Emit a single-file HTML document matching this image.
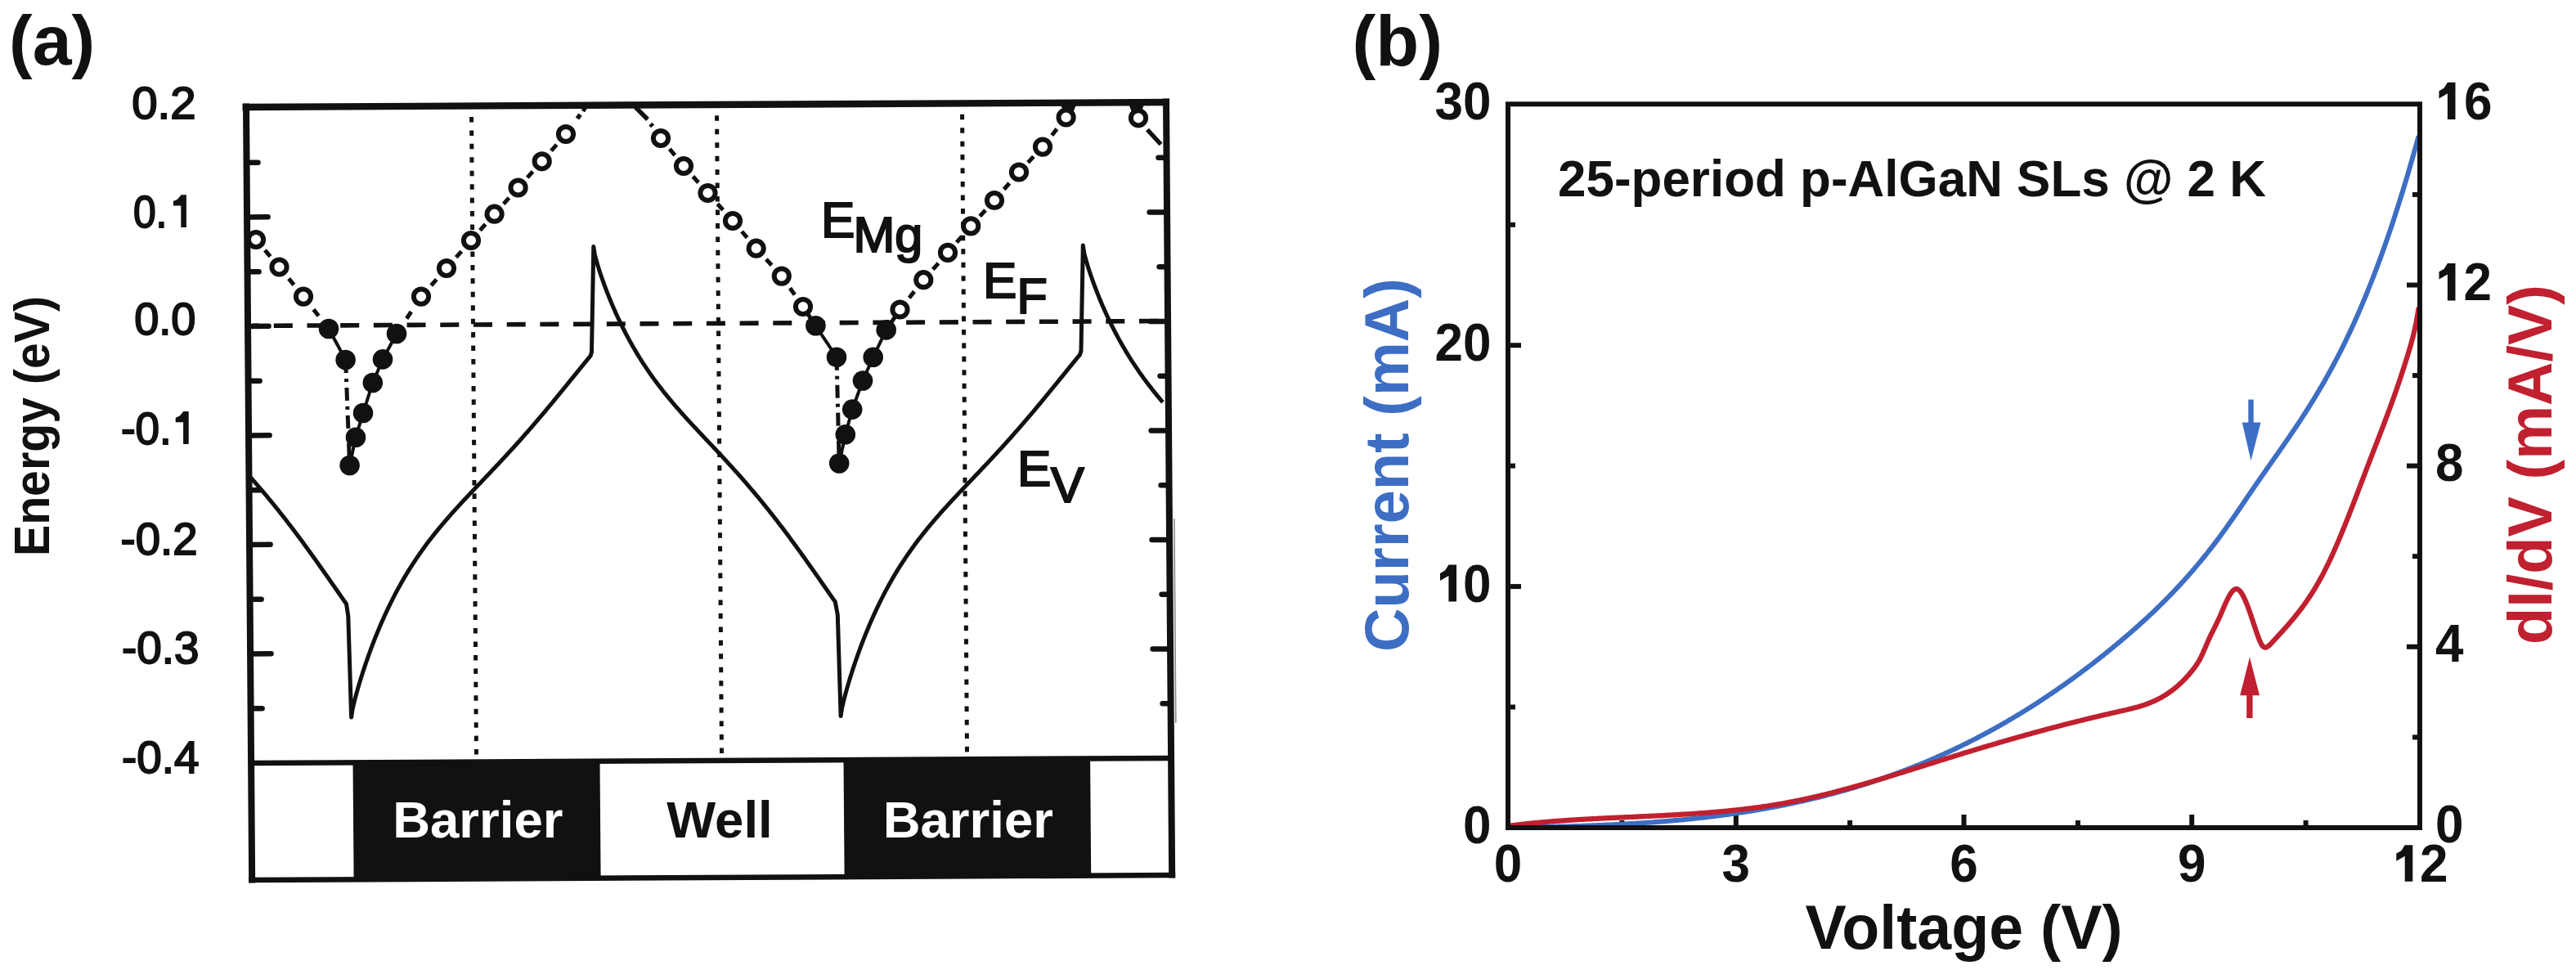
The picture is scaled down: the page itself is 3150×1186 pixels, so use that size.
<!DOCTYPE html>
<html><head><meta charset="utf-8"><style>
html,body{margin:0;padding:0;background:#fff;}
svg{display:block;}
</style></head><body>
<svg width="3150" height="1186" viewBox="0 0 3150 1186">
<rect width="3150" height="1186" fill="#fff"/>
<polygon points="431.5,932.3 733.5,930.7 734.6,1073.7 432.6,1075.3" fill="#111111"/>
<polygon points="1031.5,929.1 1333.1,927.5 1334.2,1070.5 1032.6,1072.1" fill="#111111"/>
<line x1="306.6" y1="866.2" x2="320.6" y2="866.2" stroke="#111111" stroke-width="6.5" stroke-linecap="round"/>
<line x1="1431.6" y1="860.3" x2="1421.6" y2="860.3" stroke="#111111" stroke-width="6.5" stroke-linecap="round"/>
<line x1="306.1" y1="799.5" x2="331.6" y2="799.3" stroke="#111111" stroke-width="6.5" stroke-linecap="round"/>
<line x1="1431.1" y1="793.5" x2="1409.6" y2="793.6" stroke="#111111" stroke-width="6.5" stroke-linecap="round"/>
<line x1="305.6" y1="732.7" x2="319.6" y2="732.7" stroke="#111111" stroke-width="6.5" stroke-linecap="round"/>
<line x1="1430.6" y1="726.8" x2="1420.6" y2="726.8" stroke="#111111" stroke-width="6.5" stroke-linecap="round"/>
<line x1="305.1" y1="666.0" x2="330.6" y2="665.8" stroke="#111111" stroke-width="6.5" stroke-linecap="round"/>
<line x1="1430.1" y1="660.0" x2="1408.6" y2="660.1" stroke="#111111" stroke-width="6.5" stroke-linecap="round"/>
<line x1="304.6" y1="599.2" x2="318.6" y2="599.2" stroke="#111111" stroke-width="6.5" stroke-linecap="round"/>
<line x1="1429.6" y1="593.3" x2="1419.6" y2="593.3" stroke="#111111" stroke-width="6.5" stroke-linecap="round"/>
<line x1="304.1" y1="532.5" x2="329.6" y2="532.3" stroke="#111111" stroke-width="6.5" stroke-linecap="round"/>
<line x1="1429.1" y1="526.5" x2="1407.6" y2="526.6" stroke="#111111" stroke-width="6.5" stroke-linecap="round"/>
<line x1="303.6" y1="465.7" x2="317.6" y2="465.7" stroke="#111111" stroke-width="6.5" stroke-linecap="round"/>
<line x1="1428.6" y1="459.8" x2="1418.6" y2="459.8" stroke="#111111" stroke-width="6.5" stroke-linecap="round"/>
<line x1="303.1" y1="399.0" x2="328.6" y2="398.8" stroke="#111111" stroke-width="6.5" stroke-linecap="round"/>
<line x1="1428.1" y1="393.0" x2="1406.6" y2="393.1" stroke="#111111" stroke-width="6.5" stroke-linecap="round"/>
<line x1="302.6" y1="332.2" x2="316.6" y2="332.2" stroke="#111111" stroke-width="6.5" stroke-linecap="round"/>
<line x1="1427.6" y1="326.3" x2="1417.6" y2="326.3" stroke="#111111" stroke-width="6.5" stroke-linecap="round"/>
<line x1="302.1" y1="265.5" x2="327.6" y2="265.3" stroke="#111111" stroke-width="6.5" stroke-linecap="round"/>
<line x1="1427.1" y1="259.5" x2="1405.6" y2="259.6" stroke="#111111" stroke-width="6.5" stroke-linecap="round"/>
<line x1="301.5" y1="198.7" x2="315.5" y2="198.7" stroke="#111111" stroke-width="6.5" stroke-linecap="round"/>
<line x1="1426.5" y1="192.8" x2="1416.5" y2="192.8" stroke="#111111" stroke-width="6.5" stroke-linecap="round"/>
<line x1="576.5" y1="134.0" x2="582.5" y2="923.5" stroke="#111111" stroke-width="5" stroke-dasharray="6.5 9.95" stroke-dashoffset="7.5" stroke-linecap="butt"/>
<line x1="876.5" y1="132.4" x2="882.5" y2="921.9" stroke="#111111" stroke-width="5" stroke-dasharray="6.5 9.95" stroke-dashoffset="7.5" stroke-linecap="butt"/>
<line x1="1176.5" y1="130.8" x2="1182.5" y2="920.3" stroke="#111111" stroke-width="5" stroke-dasharray="6.5 9.95" stroke-dashoffset="7.5" stroke-linecap="butt"/>
<line x1="309.1" y1="398.4" x2="1426.1" y2="392.5" stroke="#111111" stroke-width="5.6" stroke-dasharray="23 17.7" stroke-dashoffset="15"/>
<line x1="1435.9" y1="634.0" x2="1437.8" y2="884.0" stroke="#888" stroke-width="1.6" />
<polyline points="305.0,582.1 306.5,583.8 308.0,585.5 309.5,587.2 311.0,588.9 312.5,590.6 314.0,592.3 315.5,594.1 317.0,595.8 318.5,597.6 320.0,599.3 321.5,601.1 323.0,602.9 324.5,604.7 326.0,606.4 327.5,608.2 329.0,610.1 330.5,611.9 332.0,613.7 333.5,615.5 335.0,617.4 336.5,619.2 338.0,621.1 339.5,622.9 341.0,624.8 342.5,626.7 344.0,628.6 345.5,630.5 347.0,632.4 348.5,634.3 350.0,636.3 351.5,638.2 353.0,640.2 354.5,642.1 356.0,644.1 357.5,646.0 359.0,648.0 360.5,650.0 362.0,652.0 363.5,654.0 365.0,656.0 366.5,658.0 368.0,660.1 369.5,662.1 371.0,664.1 372.5,666.2 374.0,668.2 375.5,670.3 377.0,672.4 378.5,674.4 380.0,676.5 381.5,678.6 383.0,680.7 384.5,682.8 386.0,684.9 387.5,687.0 389.0,689.1 390.5,691.2 392.0,693.4 393.5,695.5 395.0,697.6 396.5,699.7 398.0,701.9 399.5,704.0 401.0,706.2 402.5,708.3 404.0,710.4 405.5,712.6 407.0,714.7 408.5,716.9 410.0,719.0 411.5,721.2 413.0,723.3 414.5,725.5 416.0,727.6 417.5,729.8 419.0,731.9 420.5,734.1 422.0,736.2 423.5,738.3 425.8,753.4 429.6,877.1 431.1,867.2 432.6,860.6 434.1,854.6 435.6,849.0 437.1,843.6 438.6,838.4 440.1,833.4 441.6,828.5 443.1,823.8 444.6,819.1 446.1,814.6 447.6,810.2 449.1,805.9 450.6,801.6 452.1,797.5 453.6,793.4 455.1,789.4 456.6,785.5 458.1,781.7 459.6,777.9 461.1,774.2 462.6,770.6 464.1,767.0 465.6,763.5 467.1,760.0 468.6,756.7 470.1,753.3 471.6,750.1 473.1,746.8 474.6,743.7 476.1,740.6 477.6,737.5 479.1,734.5 480.6,731.5 482.1,728.6 483.6,725.7 485.1,722.9 486.6,720.1 488.1,717.4 489.6,714.7 491.1,712.1 492.6,709.4 494.1,706.9 495.6,704.3 497.1,701.8 498.6,699.4 500.1,696.9 501.6,694.5 503.1,692.2 504.6,689.8 506.1,687.6 507.6,685.3 509.1,683.0 510.6,680.8 512.1,678.6 513.6,676.5 515.1,674.4 516.6,672.3 518.1,670.2 519.6,668.1 521.1,666.1 522.6,664.1 524.1,662.1 525.6,660.1 527.1,658.2 528.6,656.3 530.1,654.4 531.6,652.5 533.1,650.6 534.6,648.8 536.1,646.9 537.6,645.1 539.1,643.3 540.6,641.5 542.1,639.8 543.6,638.0 545.1,636.3 546.6,634.5 548.1,632.8 549.6,631.1 551.1,629.4 552.6,627.7 554.1,626.0 555.6,624.4 557.1,622.7 558.6,621.1 560.1,619.4 561.6,617.8 563.1,616.1 564.6,614.5 566.1,612.9 567.6,611.3 569.1,609.7 570.6,608.1 572.1,606.5 573.6,604.9 575.1,603.3 576.6,601.7 578.1,600.1 579.6,598.6 581.1,597.0 582.6,595.4 584.1,593.8 585.6,592.3 587.1,590.7 588.6,589.1 590.1,587.5 591.6,586.0 593.1,584.4 594.6,582.8 596.1,581.2 597.6,579.7 599.1,578.1 600.6,576.5 602.1,574.9 603.6,573.3 605.1,571.7 606.6,570.1 608.1,568.6 609.6,567.0 611.1,565.4 612.6,563.8 614.1,562.1 615.6,560.5 617.1,558.9 618.6,557.3 620.1,555.7 621.6,554.0 623.1,552.4 624.6,550.8 626.1,549.1 627.6,547.5 629.1,545.8 630.6,544.2 632.1,542.5 633.6,540.8 635.1,539.2 636.6,537.5 638.1,535.8 639.6,534.1 641.1,532.4 642.6,530.7 644.1,529.0 645.6,527.3 647.1,525.6 648.6,523.9 650.1,522.1 651.6,520.4 653.1,518.7 654.6,516.9 656.1,515.2 657.6,513.4 659.1,511.6 660.6,509.9 662.1,508.1 663.6,506.3 665.1,504.6 666.6,502.8 668.1,501.0 669.6,499.2 671.1,497.4 672.6,495.6 674.1,493.8 675.6,492.0 677.1,490.1 678.6,488.3 680.1,486.5 681.6,484.7 683.1,482.9 684.6,481.0 686.1,479.2 687.6,477.3 689.1,475.5 690.6,473.7 692.1,471.8 693.6,470.0 695.1,468.1 696.6,466.3 698.1,464.4 699.6,462.6 701.1,460.8 702.6,458.9 704.1,457.1 705.6,455.2 707.1,453.4 708.6,451.5 710.1,449.7 711.6,447.9 713.1,446.0 714.6,444.2 716.1,442.4 717.6,440.5 719.1,438.7 720.6,436.9 722.1,435.1 723.5,430.2 725.8,301.6 727.3,311.0 728.8,317.0 730.3,322.3 731.8,327.2 733.3,331.9 734.8,336.5 736.3,340.8 737.8,345.1 739.3,349.2 740.8,353.2 742.3,357.1 743.8,360.9 745.3,364.6 746.8,368.3 748.3,371.9 749.8,375.4 751.3,378.8 752.8,382.2 754.3,385.5 755.8,388.7 757.3,391.9 758.8,395.0 760.3,398.1 761.8,401.1 763.3,404.0 764.8,407.0 766.3,409.8 767.8,412.6 769.3,415.4 770.8,418.1 772.3,420.8 773.8,423.4 775.3,426.0 776.8,428.6 778.3,431.1 779.8,433.6 781.3,436.0 782.8,438.5 784.3,440.8 785.8,443.2 787.3,445.5 788.8,447.7 790.3,450.0 791.8,452.2 793.3,454.4 794.8,456.6 796.3,458.7 797.8,460.8 799.3,462.9 800.8,464.9 802.3,467.0 803.8,469.0 805.3,470.9 806.8,472.9 808.3,474.8 809.8,476.8 811.3,478.7 812.8,480.6 814.3,482.4 815.8,484.3 817.3,486.1 818.8,487.9 820.3,489.7 821.8,491.5 823.3,493.3 824.8,495.0 826.3,496.8 827.8,498.5 829.3,500.2 830.8,501.9 832.3,503.6 833.8,505.3 835.3,507.0 836.8,508.6 838.3,510.3 839.8,512.0 841.3,513.6 842.8,515.2 844.3,516.9 845.8,518.5 847.3,520.1 848.8,521.7 850.3,523.3 851.8,524.9 853.3,526.5 854.8,528.1 856.3,529.7 857.8,531.3 859.3,532.9 860.8,534.5 862.3,536.1 863.8,537.7 865.3,539.3 866.8,540.9 868.3,542.5 869.8,544.0 871.3,545.6 872.8,547.2 874.3,548.8 875.8,550.4 877.3,552.0 878.8,553.6 880.3,555.2 881.8,556.8 883.3,558.4 884.8,560.0 886.3,561.7 887.8,563.3 889.3,564.9 890.8,566.6 892.3,568.2 893.8,569.8 895.3,571.5 896.8,573.1 898.3,574.8 899.8,576.5 901.3,578.1 902.8,579.8 904.3,581.5 905.8,583.2 907.3,584.9 908.8,586.6 910.3,588.3 911.8,590.0 913.3,591.8 914.8,593.5 916.3,595.3 917.8,597.0 919.3,598.8 920.8,600.5 922.3,602.3 923.8,604.1 925.3,605.9 926.8,607.7 928.3,609.5 929.8,611.3 931.3,613.2 932.8,615.0 934.3,616.9 935.8,618.7 937.3,620.6 938.8,622.4 940.3,624.3 941.8,626.2 943.3,628.1 944.8,630.0 946.3,631.9 947.8,633.9 949.3,635.8 950.8,637.7 952.3,639.7 953.8,641.7 955.3,643.6 956.8,645.6 958.3,647.6 959.8,649.6 961.3,651.6 962.8,653.6 964.3,655.6 965.8,657.6 967.3,659.7 968.8,661.7 970.3,663.7 971.8,665.8 973.3,667.8 974.8,669.9 976.3,672.0 977.8,674.1 979.3,676.1 980.8,678.2 982.3,680.3 983.8,682.4 985.3,684.5 986.8,686.6 988.3,688.7 989.8,690.9 991.3,693.0 992.8,695.1 994.3,697.2 995.8,699.4 997.3,701.5 998.8,703.7 1000.3,705.8 1001.8,707.9 1003.3,710.1 1004.8,712.2 1006.3,714.4 1007.8,716.5 1009.3,718.7 1010.8,720.8 1012.3,723.0 1013.8,725.1 1015.3,727.3 1016.8,729.4 1018.3,731.6 1019.8,733.7 1021.3,735.8 1024.3,751.9 1028.1,875.6 1029.6,865.7 1031.1,859.1 1032.6,853.1 1034.1,847.5 1035.6,842.1 1037.1,836.9 1038.6,831.9 1040.1,827.0 1041.6,822.3 1043.1,817.6 1044.6,813.1 1046.1,808.7 1047.6,804.4 1049.1,800.1 1050.6,796.0 1052.1,791.9 1053.6,787.9 1055.1,784.0 1056.6,780.2 1058.1,776.4 1059.6,772.7 1061.1,769.1 1062.6,765.5 1064.1,762.0 1065.6,758.5 1067.1,755.2 1068.6,751.8 1070.1,748.6 1071.6,745.3 1073.1,742.2 1074.6,739.1 1076.1,736.0 1077.6,733.0 1079.1,730.0 1080.6,727.1 1082.1,724.2 1083.6,721.4 1085.1,718.6 1086.6,715.9 1088.1,713.2 1089.6,710.6 1091.1,707.9 1092.6,705.4 1094.1,702.8 1095.6,700.3 1097.1,697.9 1098.6,695.4 1100.1,693.0 1101.6,690.7 1103.1,688.3 1104.6,686.1 1106.1,683.8 1107.6,681.5 1109.1,679.3 1110.6,677.1 1112.1,675.0 1113.6,672.9 1115.1,670.8 1116.6,668.7 1118.1,666.6 1119.6,664.6 1121.1,662.6 1122.6,660.6 1124.1,658.6 1125.6,656.7 1127.1,654.8 1128.6,652.9 1130.1,651.0 1131.6,649.1 1133.1,647.3 1134.6,645.4 1136.1,643.6 1137.6,641.8 1139.1,640.0 1140.6,638.3 1142.1,636.5 1143.6,634.8 1145.1,633.0 1146.6,631.3 1148.1,629.6 1149.6,627.9 1151.1,626.2 1152.6,624.5 1154.1,622.9 1155.6,621.2 1157.1,619.6 1158.6,617.9 1160.1,616.3 1161.6,614.6 1163.1,613.0 1164.6,611.4 1166.1,609.8 1167.6,608.2 1169.1,606.6 1170.6,605.0 1172.1,603.4 1173.6,601.8 1175.1,600.2 1176.6,598.6 1178.1,597.1 1179.6,595.5 1181.1,593.9 1182.6,592.3 1184.1,590.8 1185.6,589.2 1187.1,587.6 1188.6,586.0 1190.1,584.5 1191.6,582.9 1193.1,581.3 1194.6,579.7 1196.1,578.2 1197.6,576.6 1199.1,575.0 1200.6,573.4 1202.1,571.8 1203.6,570.2 1205.1,568.6 1206.6,567.1 1208.1,565.5 1209.6,563.9 1211.1,562.3 1212.6,560.6 1214.1,559.0 1215.6,557.4 1217.1,555.8 1218.6,554.2 1220.1,552.5 1221.6,550.9 1223.1,549.3 1224.6,547.6 1226.1,546.0 1227.6,544.3 1229.1,542.7 1230.6,541.0 1232.1,539.3 1233.6,537.7 1235.1,536.0 1236.6,534.3 1238.1,532.6 1239.6,530.9 1241.1,529.2 1242.6,527.5 1244.1,525.8 1245.6,524.1 1247.1,522.4 1248.6,520.6 1250.1,518.9 1251.6,517.2 1253.1,515.4 1254.6,513.7 1256.1,511.9 1257.6,510.1 1259.1,508.4 1260.6,506.6 1262.1,504.8 1263.6,503.1 1265.1,501.3 1266.6,499.5 1268.1,497.7 1269.6,495.9 1271.1,494.1 1272.6,492.3 1274.1,490.5 1275.6,488.6 1277.1,486.8 1278.6,485.0 1280.1,483.2 1281.6,481.4 1283.1,479.5 1284.6,477.7 1286.1,475.8 1287.6,474.0 1289.1,472.2 1290.6,470.3 1292.1,468.5 1293.6,466.6 1295.1,464.8 1296.6,462.9 1298.1,461.1 1299.6,459.3 1301.1,457.4 1302.6,455.6 1304.1,453.7 1305.6,451.9 1307.1,450.0 1308.6,448.2 1310.1,446.4 1311.6,444.5 1313.1,442.7 1314.6,440.9 1316.1,439.0 1317.6,437.2 1319.1,435.4 1320.6,433.6 1322.0,428.7 1324.3,300.1 1325.8,309.5 1327.3,315.5 1328.8,320.8 1330.3,325.7 1331.8,330.4 1333.3,335.0 1334.8,339.3 1336.3,343.6 1337.8,347.7 1339.3,351.7 1340.8,355.6 1342.3,359.4 1343.8,363.1 1345.3,366.8 1346.8,370.4 1348.3,373.9 1349.8,377.3 1351.3,380.7 1352.8,384.0 1354.3,387.2 1355.8,390.4 1357.3,393.5 1358.8,396.6 1360.3,399.6 1361.8,402.5 1363.3,405.5 1364.8,408.3 1366.3,411.1 1367.8,413.9 1369.3,416.6 1370.8,419.3 1372.3,421.9 1373.8,424.5 1375.3,427.1 1376.8,429.6 1378.3,432.1 1379.8,434.5 1381.3,437.0 1382.8,439.3 1384.3,441.7 1385.8,444.0 1387.3,446.2 1388.8,448.5 1390.3,450.7 1391.8,452.9 1393.3,455.1 1394.8,457.2 1396.3,459.3 1397.8,461.4 1399.3,463.4 1400.8,465.5 1402.3,467.5 1403.8,469.4 1405.3,471.4 1406.8,473.3 1408.3,475.3 1409.8,477.2 1411.3,479.1 1412.8,480.9 1414.3,482.8 1415.8,484.6 1417.3,486.4 1418.8,488.2 1420.3,490.0 1421.8,491.8" fill="none" stroke="#111111" stroke-width="5" stroke-linejoin="round"/>
<line x1="324.0" y1="305.9" x2="330.5" y2="313.6" stroke="#111111" stroke-width="5"/>
<line x1="353.1" y1="340.7" x2="359.4" y2="348.4" stroke="#111111" stroke-width="5"/>
<line x1="383.4" y1="378.4" x2="389.6" y2="386.2" stroke="#111111" stroke-width="5"/>
<polyline points="402.0,402.0 422.6,440.0" fill="none" stroke="#111111" stroke-width="4"/>
<line x1="422.6" y1="440" x2="427.6" y2="569" stroke="#111111" stroke-width="5" stroke-dasharray="16 7 4 7"/>
<polyline points="427.6,569.0 435.0,534.7 444.0,505.0 455.8,468.0 468.0,439.4 485.0,408.0" fill="none" stroke="#111111" stroke-width="4"/>
<line x1="497.2" y1="389.5" x2="502.8" y2="381.1" stroke="#111111" stroke-width="5"/>
<line x1="527.2" y1="349.0" x2="533.8" y2="341.6" stroke="#111111" stroke-width="5"/>
<line x1="557.7" y1="314.7" x2="564.3" y2="307.3" stroke="#111111" stroke-width="5"/>
<line x1="587.0" y1="281.6" x2="593.6" y2="274.1" stroke="#111111" stroke-width="5"/>
<line x1="615.8" y1="249.3" x2="622.4" y2="241.9" stroke="#111111" stroke-width="5"/>
<line x1="644.8" y1="217.1" x2="651.5" y2="209.7" stroke="#111111" stroke-width="5"/>
<line x1="674.0" y1="184.4" x2="680.7" y2="176.9" stroke="#111111" stroke-width="5"/>
<line x1="818.8" y1="182.1" x2="825.2" y2="189.9" stroke="#111111" stroke-width="5"/>
<line x1="847.4" y1="215.8" x2="854.1" y2="223.2" stroke="#111111" stroke-width="5"/>
<line x1="877.4" y1="249.3" x2="884.1" y2="256.7" stroke="#111111" stroke-width="5"/>
<line x1="907.1" y1="283.0" x2="913.6" y2="290.7" stroke="#111111" stroke-width="5"/>
<line x1="936.9" y1="317.0" x2="943.6" y2="324.3" stroke="#111111" stroke-width="5"/>
<line x1="966.0" y1="352.2" x2="971.8" y2="360.4" stroke="#111111" stroke-width="5"/>
<line x1="986.9" y1="382.5" x2="992.5" y2="390.8" stroke="#111111" stroke-width="5"/>
<polyline points="997.4,398.3 1023.0,436.7" fill="none" stroke="#111111" stroke-width="4"/>
<line x1="1023" y1="436.7" x2="1026.2" y2="566.5" stroke="#111111" stroke-width="5" stroke-dasharray="16 7 4 7"/>
<polyline points="1026.2,566.5 1033.8,531.3 1042.2,500.6 1055.0,465.5 1067.7,436.7 1083.7,403.4" fill="none" stroke="#111111" stroke-width="4"/>
<line x1="1089.3" y1="395.1" x2="1094.9" y2="386.8" stroke="#111111" stroke-width="5"/>
<line x1="1111.8" y1="364.3" x2="1118.0" y2="356.4" stroke="#111111" stroke-width="5"/>
<line x1="1140.8" y1="329.3" x2="1147.5" y2="321.8" stroke="#111111" stroke-width="5"/>
<line x1="1169.8" y1="296.4" x2="1176.4" y2="288.9" stroke="#111111" stroke-width="5"/>
<line x1="1198.2" y1="264.4" x2="1205.0" y2="257.0" stroke="#111111" stroke-width="5"/>
<line x1="1227.7" y1="231.5" x2="1234.3" y2="224.0" stroke="#111111" stroke-width="5"/>
<line x1="1257.1" y1="198.7" x2="1263.9" y2="191.4" stroke="#111111" stroke-width="5"/>
<line x1="1286.2" y1="165.5" x2="1292.4" y2="157.6" stroke="#111111" stroke-width="5"/>
<line x1="706" y1="145" x2="709.5" y2="140" stroke="#111111" stroke-width="5.5"/>
<line x1="713" y1="136" x2="716" y2="131" stroke="#111111" stroke-width="5"/>
<line x1="777" y1="131" x2="792" y2="146" stroke="#111111" stroke-width="5.5"/>
<line x1="795.5" y1="151.5" x2="798" y2="154.5" stroke="#111111" stroke-width="5.5"/>
<polygon points="1297,128 1316,128 1312,138 1301,138" fill="#111111"/>
<polygon points="1380,127 1399,127 1396,137 1384,137" fill="#111111"/>
<line x1="1403" y1="158.5" x2="1419.5" y2="176.5" stroke="#111111" stroke-width="5.5"/>
<circle cx="313" cy="293" r="9.1" fill="#fff" stroke="#111111" stroke-width="6"/>
<circle cx="341.5" cy="326.5" r="9.1" fill="#fff" stroke="#111111" stroke-width="6"/>
<circle cx="371" cy="362.6" r="9.1" fill="#fff" stroke="#111111" stroke-width="6"/>
<circle cx="515" cy="362.6" r="9.1" fill="#fff" stroke="#111111" stroke-width="6"/>
<circle cx="546" cy="328" r="9.1" fill="#fff" stroke="#111111" stroke-width="6"/>
<circle cx="576" cy="294" r="9.1" fill="#fff" stroke="#111111" stroke-width="6"/>
<circle cx="604.6" cy="261.7" r="9.1" fill="#fff" stroke="#111111" stroke-width="6"/>
<circle cx="633.6" cy="229.5" r="9.1" fill="#fff" stroke="#111111" stroke-width="6"/>
<circle cx="662.7" cy="197.3" r="9.1" fill="#fff" stroke="#111111" stroke-width="6"/>
<circle cx="692" cy="164" r="9.1" fill="#fff" stroke="#111111" stroke-width="6"/>
<circle cx="808" cy="169" r="9.1" fill="#fff" stroke="#111111" stroke-width="6"/>
<circle cx="836" cy="203" r="9.1" fill="#fff" stroke="#111111" stroke-width="6"/>
<circle cx="865.5" cy="236" r="9.1" fill="#fff" stroke="#111111" stroke-width="6"/>
<circle cx="896" cy="270" r="9.1" fill="#fff" stroke="#111111" stroke-width="6"/>
<circle cx="924.7" cy="303.7" r="9.1" fill="#fff" stroke="#111111" stroke-width="6"/>
<circle cx="955.8" cy="337.6" r="9.1" fill="#fff" stroke="#111111" stroke-width="6"/>
<circle cx="982" cy="375" r="9.1" fill="#fff" stroke="#111111" stroke-width="6"/>
<circle cx="1100.5" cy="378.5" r="9.1" fill="#fff" stroke="#111111" stroke-width="6"/>
<circle cx="1129.3" cy="342.2" r="9.1" fill="#fff" stroke="#111111" stroke-width="6"/>
<circle cx="1159" cy="308.9" r="9.1" fill="#fff" stroke="#111111" stroke-width="6"/>
<circle cx="1187.2" cy="276.4" r="9.1" fill="#fff" stroke="#111111" stroke-width="6"/>
<circle cx="1216" cy="245" r="9.1" fill="#fff" stroke="#111111" stroke-width="6"/>
<circle cx="1246" cy="210.5" r="9.1" fill="#fff" stroke="#111111" stroke-width="6"/>
<circle cx="1275" cy="179.6" r="9.1" fill="#fff" stroke="#111111" stroke-width="6"/>
<circle cx="1303.6" cy="143.5" r="9.1" fill="#fff" stroke="#111111" stroke-width="6"/>
<circle cx="1392" cy="144.3" r="9.1" fill="#fff" stroke="#111111" stroke-width="6"/>
<circle cx="402" cy="402" r="12.3" fill="#111111"/>
<circle cx="422.6" cy="440" r="12.3" fill="#111111"/>
<circle cx="427.6" cy="569" r="12.3" fill="#111111"/>
<circle cx="435" cy="534.7" r="12.3" fill="#111111"/>
<circle cx="444" cy="505" r="12.3" fill="#111111"/>
<circle cx="455.8" cy="468" r="12.3" fill="#111111"/>
<circle cx="468" cy="439.4" r="12.3" fill="#111111"/>
<circle cx="485" cy="408" r="12.3" fill="#111111"/>
<circle cx="997.4" cy="398.3" r="12.3" fill="#111111"/>
<circle cx="1023" cy="436.7" r="12.3" fill="#111111"/>
<circle cx="1026.2" cy="566.5" r="12.3" fill="#111111"/>
<circle cx="1033.8" cy="531.3" r="12.3" fill="#111111"/>
<circle cx="1042.2" cy="500.6" r="12.3" fill="#111111"/>
<circle cx="1055" cy="465.5" r="12.3" fill="#111111"/>
<circle cx="1067.7" cy="436.7" r="12.3" fill="#111111"/>
<circle cx="1083.7" cy="403.4" r="12.3" fill="#111111"/>
<rect x="0" y="0" width="1500" height="120" fill="#fff"/>
<line x1="296.5" y1="131.0" x2="1430.0" y2="125.0" stroke="#111111" stroke-width="8.4" />
<line x1="301.0" y1="126.5" x2="308.2" y2="1079.5" stroke="#111111" stroke-width="8" />
<line x1="1426.0" y1="120.5" x2="1433.2" y2="1073.5" stroke="#111111" stroke-width="8" />
<line x1="304.2" y1="1076.0" x2="1437.2" y2="1070.0" stroke="#111111" stroke-width="6.5" />
<line x1="307.1" y1="933.0" x2="1432.1" y2="927.0" stroke="#111111" stroke-width="6.5" />
<text x="11" y="78.5" font-family="Liberation Sans, sans-serif" font-weight="bold" font-size="86" fill="#111111">(a)</text>
<text x="161.2" y="144.8" font-family="Liberation Sans, sans-serif" font-size="56" textLength="78.3" lengthAdjust="spacingAndGlyphs" fill="#111111" stroke="#111111" stroke-width="2">0.2</text>
<text x="164.2" y="409.3" font-family="Liberation Sans, sans-serif" font-size="56" textLength="75.2" lengthAdjust="spacingAndGlyphs" fill="#111111" stroke="#111111" stroke-width="2">0.0</text>
<text x="147.6" y="677.6" font-family="Liberation Sans, sans-serif" font-size="56" textLength="94.0" lengthAdjust="spacingAndGlyphs" fill="#111111" stroke="#111111" stroke-width="2">-0.2</text>
<text x="149.0" y="811" font-family="Liberation Sans, sans-serif" font-size="56" textLength="94.4" lengthAdjust="spacingAndGlyphs" fill="#111111" stroke="#111111" stroke-width="2">-0.3</text>
<text x="149.0" y="945" font-family="Liberation Sans, sans-serif" font-size="56" textLength="94.4" lengthAdjust="spacingAndGlyphs" fill="#111111" stroke="#111111" stroke-width="2">-0.4</text>
<text x="162.9" y="277.9" font-family="Liberation Sans, sans-serif" font-size="56" textLength="41.5" lengthAdjust="spacingAndGlyphs" fill="#111111" stroke="#111111" stroke-width="2">0.</text>
<polygon points="221.3,238.3 227.9,238.3 227.9,277.9 221.3,277.9 221.3,251.5 211.9,251.5 211.9,246.1 216.9,243.8 220.4,239.8" fill="#111111"/>
<text x="147.9" y="543" font-family="Liberation Sans, sans-serif" font-size="56" textLength="62" lengthAdjust="spacingAndGlyphs" fill="#111111" stroke="#111111" stroke-width="2">-0.</text>
<polygon points="224.1,503.0 230.7,503.0 230.7,543.0 224.1,543.0 224.1,516.2 214.7,516.2 214.7,510.8 219.7,508.5 223.2,504.5" fill="#111111"/>
<text transform="translate(59.5,680) rotate(-90)" font-family="Liberation Sans, sans-serif" font-weight="bold" font-size="62" textLength="318" lengthAdjust="spacingAndGlyphs" fill="#111111">Energy (eV)</text>
<text x="1004" y="289.6" font-family="Liberation Sans, sans-serif" font-size="62" fill="#111111" stroke="#111111" stroke-width="2.2">E</text>
<text x="1043.5" y="308" font-family="Liberation Sans, sans-serif" font-size="61" fill="#111111" stroke="#111111" stroke-width="2.2">Mg</text>
<text x="1202" y="364" font-family="Liberation Sans, sans-serif" font-size="62" fill="#111111" stroke="#111111" stroke-width="2.2">E</text>
<text x="1243.5" y="382.5" font-family="Liberation Sans, sans-serif" font-size="61" fill="#111111" stroke="#111111" stroke-width="2.2">F</text>
<text x="1244" y="594.4" font-family="Liberation Sans, sans-serif" font-size="62" fill="#111111" stroke="#111111" stroke-width="2.2">E</text>
<text x="1285" y="613.5" font-family="Liberation Sans, sans-serif" font-size="61" fill="#111111" stroke="#111111" stroke-width="2.2">V</text>
<text x="584.3" y="1024" font-family="Liberation Sans, sans-serif" font-weight="bold" font-size="63.5" text-anchor="middle" fill="#fff">Barrier</text>
<text x="880" y="1024" font-family="Liberation Sans, sans-serif" font-weight="bold" font-size="63.5" text-anchor="middle" fill="#111111">Well</text>
<text x="1183.8" y="1024" font-family="Liberation Sans, sans-serif" font-weight="bold" font-size="63.5" text-anchor="middle" fill="#fff">Barrier</text>
<line x1="1844" y1="864.5" x2="1853" y2="864.5" stroke="#111111" stroke-width="6"/>
<line x1="1844" y1="717.1" x2="1860" y2="717.1" stroke="#111111" stroke-width="6"/>
<line x1="1844" y1="569.6" x2="1853" y2="569.6" stroke="#111111" stroke-width="6"/>
<line x1="1844" y1="422.2" x2="1860" y2="422.2" stroke="#111111" stroke-width="6"/>
<line x1="1844" y1="274.8" x2="1853" y2="274.8" stroke="#111111" stroke-width="6"/>
<line x1="2959" y1="901.4" x2="2950" y2="901.4" stroke="#111111" stroke-width="6"/>
<line x1="2959" y1="790.8" x2="2943" y2="790.8" stroke="#111111" stroke-width="6"/>
<line x1="2959" y1="680.2" x2="2950" y2="680.2" stroke="#111111" stroke-width="6"/>
<line x1="2959" y1="569.6" x2="2943" y2="569.6" stroke="#111111" stroke-width="6"/>
<line x1="2959" y1="459.1" x2="2950" y2="459.1" stroke="#111111" stroke-width="6"/>
<line x1="2959" y1="348.5" x2="2943" y2="348.5" stroke="#111111" stroke-width="6"/>
<line x1="2959" y1="237.9" x2="2950" y2="237.9" stroke="#111111" stroke-width="6"/>
<line x1="1983.4" y1="1012" x2="1983.4" y2="1003" stroke="#111111" stroke-width="6"/>
<line x1="2122.8" y1="1012" x2="2122.8" y2="996" stroke="#111111" stroke-width="6"/>
<line x1="2262.1" y1="1012" x2="2262.1" y2="1003" stroke="#111111" stroke-width="6"/>
<line x1="2401.5" y1="1012" x2="2401.5" y2="996" stroke="#111111" stroke-width="6"/>
<line x1="2540.9" y1="1012" x2="2540.9" y2="1003" stroke="#111111" stroke-width="6"/>
<line x1="2680.2" y1="1012" x2="2680.2" y2="996" stroke="#111111" stroke-width="6"/>
<line x1="2819.6" y1="1012" x2="2819.6" y2="1003" stroke="#111111" stroke-width="6"/>
<text x="1653.5" y="79.5" font-family="Liberation Sans, sans-serif" font-weight="bold" font-size="86.5" fill="#111111">(b)</text>
<text transform="translate(1823.5,1030.7) scale(1,1.05)" font-family="Liberation Sans, sans-serif" font-weight="bold" font-size="62" text-anchor="end" fill="#111111">0</text>
<text transform="translate(1823.5,440.9) scale(1,1.05)" font-family="Liberation Sans, sans-serif" font-weight="bold" font-size="62" text-anchor="end" fill="#111111">20</text>
<text transform="translate(1823.5,146.0) scale(1,1.05)" font-family="Liberation Sans, sans-serif" font-weight="bold" font-size="62" text-anchor="end" fill="#111111">30</text>
<text transform="translate(1823.5,735.6) scale(1,1.05)" font-family="Liberation Sans, sans-serif" font-weight="bold" font-size="62" text-anchor="end" fill="#111111">0</text>
<polygon points="1771.4,690.5 1781.0,690.5 1781.0,735.6 1771.4,735.6 1771.4,704.0 1761.0,710.1 1761.0,700.9 1767.0,697.5 1770.2,692.5" fill="#111111"/>
<text transform="translate(2978.0,1030.3) scale(1,1.05)" font-family="Liberation Sans, sans-serif" font-weight="bold" font-size="62" text-anchor="start" fill="#111111">0</text>
<text transform="translate(2978.0,809.1) scale(1,1.05)" font-family="Liberation Sans, sans-serif" font-weight="bold" font-size="62" text-anchor="start" fill="#111111">4</text>
<text transform="translate(2978.0,587.9) scale(1,1.05)" font-family="Liberation Sans, sans-serif" font-weight="bold" font-size="62" text-anchor="start" fill="#111111">8</text>
<text transform="translate(3013.0,145.9) scale(1,1.05)" font-family="Liberation Sans, sans-serif" font-weight="bold" font-size="62" text-anchor="start" fill="#111111">6</text>
<polygon points="2992.9,100.8 3002.5,100.8 3002.5,145.9 2992.9,145.9 2992.9,114.3 2982.5,120.4 2982.5,111.2 2988.5,107.8 2991.7,102.8" fill="#111111"/>
<text transform="translate(3012.5,367.4) scale(1,1.05)" font-family="Liberation Sans, sans-serif" font-weight="bold" font-size="62" text-anchor="start" fill="#111111">2</text>
<polygon points="2992.9,321.9 3002.5,321.9 3002.5,367.4 2992.9,367.4 2992.9,335.4 2982.5,341.5 2982.5,332.3 2988.5,328.9 2991.7,323.9" fill="#111111"/>
<text transform="translate(1844.0,1077.7) scale(1,1.05)" font-family="Liberation Sans, sans-serif" font-weight="bold" font-size="62" text-anchor="middle" fill="#111111">0</text>
<text transform="translate(2122.8,1077.7) scale(1,1.05)" font-family="Liberation Sans, sans-serif" font-weight="bold" font-size="62" text-anchor="middle" fill="#111111">3</text>
<text transform="translate(2401.5,1077.7) scale(1,1.05)" font-family="Liberation Sans, sans-serif" font-weight="bold" font-size="62" text-anchor="middle" fill="#111111">6</text>
<text transform="translate(2680.2,1077.7) scale(1,1.05)" font-family="Liberation Sans, sans-serif" font-weight="bold" font-size="62" text-anchor="middle" fill="#111111">9</text>
<text transform="translate(2959.0,1077.7) scale(1,1.05)" font-family="Liberation Sans, sans-serif" font-weight="bold" font-size="62" text-anchor="start" fill="#111111">2</text>
<polygon points="2940.7,1033.2 2950.3,1033.2 2950.3,1077.7 2940.7,1077.7 2940.7,1046.7 2930.3,1052.8 2930.3,1043.6 2936.3,1040.2 2939.5,1035.2" fill="#111111"/>
<text x="2207.5" y="1160.3" font-family="Liberation Sans, sans-serif" font-weight="bold" font-size="76" textLength="388" lengthAdjust="spacingAndGlyphs" fill="#111111">Voltage (V)</text>
<text x="1905" y="240.4" font-family="Liberation Sans, sans-serif" font-weight="bold" font-size="62.5" textLength="866" lengthAdjust="spacingAndGlyphs" fill="#111111">25-period p-AlGaN SLs @ 2 K</text>
<text transform="translate(1721.8,797) rotate(-90)" font-family="Liberation Sans, sans-serif" font-weight="bold" font-size="76" textLength="457" lengthAdjust="spacingAndGlyphs" fill="#3d6ec4">Current (mA)</text>
<text transform="translate(3120,788) rotate(-90)" font-family="Liberation Sans, sans-serif" font-weight="bold" font-size="76" textLength="440" lengthAdjust="spacingAndGlyphs" fill="#c0202f">dI/dV (mA/V)</text>
<polyline points="1844.0,1011.8 1846.0,1011.8 1848.0,1011.8 1850.0,1011.7 1852.0,1011.7 1854.0,1011.7 1856.0,1011.6 1858.0,1011.6 1860.0,1011.6 1862.0,1011.5 1864.0,1011.5 1866.0,1011.5 1868.0,1011.4 1870.0,1011.4 1872.0,1011.4 1874.0,1011.3 1876.0,1011.3 1878.0,1011.3 1880.0,1011.2 1882.0,1011.2 1884.0,1011.1 1886.0,1011.1 1888.0,1011.1 1890.0,1011.0 1892.0,1011.0 1894.0,1010.9 1896.0,1010.9 1898.0,1010.8 1900.0,1010.8 1902.0,1010.7 1904.0,1010.7 1906.0,1010.6 1908.0,1010.6 1910.0,1010.5 1912.0,1010.5 1914.0,1010.4 1916.0,1010.4 1918.0,1010.3 1920.0,1010.3 1922.0,1010.2 1924.0,1010.1 1926.0,1010.1 1928.0,1010.0 1930.0,1010.0 1932.0,1009.9 1934.0,1009.8 1936.0,1009.8 1938.0,1009.7 1940.0,1009.6 1942.0,1009.5 1944.0,1009.5 1946.0,1009.4 1948.0,1009.3 1950.0,1009.2 1952.0,1009.2 1954.0,1009.1 1956.0,1009.0 1958.0,1008.9 1960.0,1008.8 1962.0,1008.7 1964.0,1008.6 1966.0,1008.6 1968.0,1008.5 1970.0,1008.4 1972.0,1008.3 1974.0,1008.2 1976.0,1008.1 1978.0,1008.0 1980.0,1007.9 1982.0,1007.8 1984.0,1007.7 1986.0,1007.6 1988.0,1007.4 1990.0,1007.3 1992.0,1007.2 1994.0,1007.1 1996.0,1007.0 1998.0,1006.9 2000.0,1006.7 2002.0,1006.6 2004.0,1006.5 2006.0,1006.4 2008.0,1006.2 2010.0,1006.1 2012.0,1006.0 2014.0,1005.8 2016.0,1005.7 2018.0,1005.5 2020.0,1005.4 2022.0,1005.3 2024.0,1005.1 2026.0,1005.0 2028.0,1004.8 2030.0,1004.7 2032.0,1004.5 2034.0,1004.3 2036.0,1004.2 2038.0,1004.0 2040.0,1003.8 2042.0,1003.7 2044.0,1003.5 2046.0,1003.3 2048.0,1003.1 2050.0,1003.0 2052.0,1002.8 2054.0,1002.6 2056.0,1002.4 2058.0,1002.2 2060.0,1002.0 2062.0,1001.8 2064.0,1001.6 2066.0,1001.4 2068.0,1001.2 2070.0,1001.0 2072.0,1000.8 2074.0,1000.6 2076.0,1000.4 2078.0,1000.1 2080.0,999.9 2082.0,999.7 2084.0,999.5 2086.0,999.2 2088.0,999.0 2090.0,998.8 2092.0,998.5 2094.0,998.3 2096.0,998.0 2098.0,997.8 2100.0,997.5 2102.0,997.3 2104.0,997.0 2106.0,996.8 2108.0,996.5 2110.0,996.2 2112.0,995.9 2114.0,995.7 2116.0,995.4 2118.0,995.1 2120.0,994.8 2122.0,994.5 2124.0,994.2 2126.0,993.9 2128.0,993.6 2130.0,993.3 2132.0,993.0 2134.0,992.7 2136.0,992.4 2138.0,992.1 2140.0,991.8 2142.0,991.5 2144.0,991.1 2146.0,990.8 2148.0,990.5 2150.0,990.1 2152.0,989.8 2154.0,989.4 2156.0,989.1 2158.0,988.7 2160.0,988.4 2162.0,988.0 2164.0,987.6 2166.0,987.3 2168.0,986.9 2170.0,986.5 2172.0,986.1 2174.0,985.8 2176.0,985.4 2178.0,985.0 2180.0,984.6 2182.0,984.2 2184.0,983.8 2186.0,983.4 2188.0,982.9 2190.0,982.5 2192.0,982.1 2194.0,981.7 2196.0,981.2 2198.0,980.8 2200.0,980.4 2202.0,979.9 2204.0,979.5 2206.0,979.0 2208.0,978.6 2210.0,978.1 2212.0,977.7 2214.0,977.2 2216.0,976.7 2218.0,976.2 2220.0,975.7 2222.0,975.3 2224.0,974.8 2226.0,974.3 2228.0,973.8 2230.0,973.3 2232.0,972.8 2234.0,972.2 2236.0,971.7 2238.0,971.2 2240.0,970.7 2242.0,970.1 2244.0,969.6 2246.0,969.1 2248.0,968.5 2250.0,967.9 2252.0,967.4 2254.0,966.8 2256.0,966.3 2258.0,965.7 2260.0,965.1 2262.0,964.5 2264.0,963.9 2266.0,963.4 2268.0,962.8 2270.0,962.2 2272.0,961.5 2274.0,960.9 2276.0,960.3 2278.0,959.7 2280.0,959.1 2282.0,958.4 2284.0,957.8 2286.0,957.1 2288.0,956.5 2290.0,955.8 2292.0,955.2 2294.0,954.5 2296.0,953.9 2298.0,953.2 2300.0,952.5 2302.0,951.8 2304.0,951.1 2306.0,950.4 2308.0,949.7 2310.0,949.0 2312.0,948.3 2314.0,947.6 2316.0,946.9 2318.0,946.1 2320.0,945.4 2322.0,944.7 2324.0,943.9 2326.0,943.2 2328.0,942.4 2330.0,941.6 2332.0,940.9 2334.0,940.1 2336.0,939.3 2338.0,938.5 2340.0,937.7 2342.0,936.9 2344.0,936.1 2346.0,935.3 2348.0,934.5 2350.0,933.7 2352.0,932.8 2354.0,932.0 2356.0,931.2 2358.0,930.3 2360.0,929.5 2362.0,928.6 2364.0,927.7 2366.0,926.9 2368.0,926.0 2370.0,925.1 2372.0,924.2 2374.0,923.3 2376.0,922.4 2378.0,921.5 2380.0,920.6 2382.0,919.7 2384.0,918.8 2386.0,917.8 2388.0,916.9 2390.0,916.0 2392.0,915.0 2394.0,914.0 2396.0,913.1 2398.0,912.1 2400.0,911.1 2402.0,910.1 2404.0,909.2 2406.0,908.2 2408.0,907.2 2410.0,906.1 2412.0,905.1 2414.0,904.1 2416.0,903.1 2418.0,902.0 2420.0,901.0 2422.0,899.9 2424.0,898.9 2426.0,897.8 2428.0,896.7 2430.0,895.7 2432.0,894.6 2434.0,893.5 2436.0,892.4 2438.0,891.3 2440.0,890.2 2442.0,889.1 2444.0,887.9 2446.0,886.8 2448.0,885.7 2450.0,884.5 2452.0,883.4 2454.0,882.2 2456.0,881.0 2458.0,879.9 2460.0,878.7 2462.0,877.5 2464.0,876.3 2466.0,875.1 2468.0,873.9 2470.0,872.7 2472.0,871.5 2474.0,870.2 2476.0,869.0 2478.0,867.8 2480.0,866.5 2482.0,865.3 2484.0,864.0 2486.0,862.7 2488.0,861.4 2490.0,860.2 2492.0,858.9 2494.0,857.6 2496.0,856.3 2498.0,854.9 2500.0,853.6 2502.0,852.3 2504.0,850.9 2506.0,849.6 2508.0,848.3 2510.0,846.9 2512.0,845.5 2514.0,844.2 2516.0,842.8 2518.0,841.4 2520.0,840.0 2522.0,838.6 2524.0,837.2 2526.0,835.8 2528.0,834.3 2530.0,832.9 2532.0,831.5 2534.0,830.0 2536.0,828.6 2538.0,827.1 2540.0,825.6 2542.0,824.1 2544.0,822.7 2546.0,821.2 2548.0,819.7 2550.0,818.2 2552.0,816.6 2554.0,815.1 2556.0,813.6 2558.0,812.1 2560.0,810.5 2562.0,809.0 2564.0,807.4 2566.0,805.8 2568.0,804.2 2570.0,802.7 2572.0,801.1 2574.0,799.5 2576.0,797.9 2578.0,796.2 2580.0,794.6 2582.0,793.0 2584.0,791.3 2586.0,789.7 2588.0,788.0 2590.0,786.4 2592.0,784.7 2594.0,783.0 2596.0,781.3 2598.0,779.6 2600.0,777.9 2602.0,776.2 2604.0,774.5 2606.0,772.8 2608.0,771.0 2610.0,769.3 2612.0,767.5 2614.0,765.7 2616.0,763.9 2618.0,762.1 2620.0,760.3 2622.0,758.5 2624.0,756.7 2626.0,754.8 2628.0,752.9 2630.0,751.1 2632.0,749.2 2634.0,747.3 2636.0,745.4 2638.0,743.4 2640.0,741.5 2642.0,739.5 2644.0,737.5 2646.0,735.6 2648.0,733.6 2650.0,731.5 2652.0,729.5 2654.0,727.4 2656.0,725.4 2658.0,723.3 2660.0,721.2 2662.0,719.0 2664.0,716.9 2666.0,714.7 2668.0,712.6 2670.0,710.4 2672.0,708.1 2674.0,705.9 2676.0,703.7 2678.0,701.4 2680.0,699.1 2682.0,696.8 2684.0,694.4 2686.0,692.1 2688.0,689.7 2690.0,687.3 2692.0,684.9 2694.0,682.4 2696.0,680.0 2698.0,677.5 2700.0,675.0 2702.0,672.4 2704.0,669.9 2706.0,667.3 2708.0,664.7 2710.0,662.1 2712.0,659.4 2714.0,656.7 2716.0,654.0 2718.0,651.3 2720.0,648.5 2722.0,645.8 2724.0,642.9 2726.0,640.1 2728.0,637.3 2730.0,634.4 2732.0,631.5 2734.0,628.6 2736.0,625.7 2738.0,622.8 2740.0,619.8 2742.0,616.9 2744.0,614.0 2746.0,611.0 2748.0,608.1 2750.0,605.1 2752.0,602.2 2754.0,599.3 2756.0,596.3 2758.0,593.4 2760.0,590.5 2762.0,587.7 2764.0,584.8 2766.0,581.9 2768.0,579.0 2770.0,576.2 2772.0,573.3 2774.0,570.5 2776.0,567.6 2778.0,564.8 2780.0,561.9 2782.0,559.1 2784.0,556.2 2786.0,553.4 2788.0,550.5 2790.0,547.7 2792.0,544.8 2794.0,541.9 2796.0,539.0 2798.0,536.1 2800.0,533.2 2802.0,530.2 2804.0,527.3 2806.0,524.3 2808.0,521.4 2810.0,518.3 2812.0,515.3 2814.0,512.3 2816.0,509.2 2818.0,506.1 2820.0,503.0 2822.0,499.9 2824.0,496.7 2826.0,493.5 2828.0,490.3 2830.0,487.0 2832.0,483.7 2834.0,480.4 2836.0,477.0 2838.0,473.6 2840.0,470.2 2842.0,466.7 2844.0,463.2 2846.0,459.6 2848.0,456.0 2850.0,452.4 2852.0,448.7 2854.0,445.0 2856.0,441.2 2858.0,437.4 2860.0,433.5 2862.0,429.6 2864.0,425.6 2866.0,421.6 2868.0,417.5 2870.0,413.3 2872.0,409.1 2874.0,404.9 2876.0,400.5 2878.0,396.2 2880.0,391.7 2882.0,387.2 2884.0,382.7 2886.0,378.1 2888.0,373.4 2890.0,368.6 2892.0,363.8 2894.0,359.0 2896.0,354.0 2898.0,349.0 2900.0,344.0 2902.0,338.8 2904.0,333.6 2906.0,328.4 2908.0,323.0 2910.0,317.6 2912.0,312.1 2914.0,306.6 2916.0,300.9 2918.0,295.2 2920.0,289.5 2922.0,283.6 2924.0,277.7 2926.0,271.7 2928.0,265.6 2930.0,259.4 2932.0,253.2 2934.0,246.9 2936.0,240.5 2938.0,234.0 2940.0,227.5 2942.0,220.8 2944.0,214.1 2946.0,207.3 2948.0,200.4 2950.0,193.4 2952.0,186.4 2954.0,179.2 2956.0,172.0 2957.0,168.3" fill="none" stroke="#3d6ec4" stroke-width="6" stroke-linecap="round" stroke-linejoin="round"/>
<polyline points="1846.0,1009.6 1847.5,1009.4 1849.0,1009.2 1850.5,1009.0 1852.0,1008.9 1853.5,1008.7 1855.0,1008.5 1856.5,1008.3 1858.0,1008.2 1859.5,1008.0 1861.0,1007.8 1862.5,1007.7 1864.0,1007.5 1865.5,1007.3 1867.0,1007.2 1868.5,1007.0 1870.0,1006.9 1871.5,1006.7 1873.0,1006.6 1874.5,1006.4 1876.0,1006.3 1877.5,1006.1 1879.0,1006.0 1880.5,1005.8 1882.0,1005.7 1883.5,1005.6 1885.0,1005.4 1886.5,1005.3 1888.0,1005.2 1889.5,1005.0 1891.0,1004.9 1892.5,1004.8 1894.0,1004.7 1895.5,1004.5 1897.0,1004.4 1898.5,1004.3 1900.0,1004.2 1901.5,1004.1 1903.0,1003.9 1904.5,1003.8 1906.0,1003.7 1907.5,1003.6 1909.0,1003.5 1910.5,1003.4 1912.0,1003.3 1913.5,1003.2 1915.0,1003.1 1916.5,1003.0 1918.0,1002.9 1919.5,1002.8 1921.0,1002.7 1922.5,1002.6 1924.0,1002.5 1925.5,1002.4 1927.0,1002.3 1928.5,1002.2 1930.0,1002.1 1931.5,1002.0 1933.0,1001.9 1934.5,1001.9 1936.0,1001.8 1937.5,1001.7 1939.0,1001.6 1940.5,1001.5 1942.0,1001.4 1943.5,1001.4 1945.0,1001.3 1946.5,1001.2 1948.0,1001.1 1949.5,1001.0 1951.0,1001.0 1952.5,1000.9 1954.0,1000.8 1955.5,1000.7 1957.0,1000.7 1958.5,1000.6 1960.0,1000.5 1961.5,1000.4 1963.0,1000.4 1964.5,1000.3 1966.0,1000.2 1967.5,1000.1 1969.0,1000.1 1970.5,1000.0 1972.0,999.9 1973.5,999.9 1975.0,999.8 1976.5,999.7 1978.0,999.7 1979.5,999.6 1981.0,999.5 1982.5,999.4 1984.0,999.4 1985.5,999.3 1987.0,999.2 1988.5,999.2 1990.0,999.1 1991.5,999.0 1993.0,999.0 1994.5,998.9 1996.0,998.8 1997.5,998.8 1999.0,998.7 2000.5,998.6 2002.0,998.6 2003.5,998.5 2005.0,998.4 2006.5,998.4 2008.0,998.3 2009.5,998.2 2011.0,998.2 2012.5,998.1 2014.0,998.0 2015.5,997.9 2017.0,997.9 2018.5,997.8 2020.0,997.7 2021.5,997.7 2023.0,997.6 2024.5,997.5 2026.0,997.4 2027.5,997.4 2029.0,997.3 2030.5,997.2 2032.0,997.1 2033.5,997.1 2035.0,997.0 2036.5,996.9 2038.0,996.8 2039.5,996.7 2041.0,996.7 2042.5,996.6 2044.0,996.5 2045.5,996.4 2047.0,996.3 2048.5,996.3 2050.0,996.2 2051.5,996.1 2053.0,996.0 2054.5,995.9 2056.0,995.8 2057.5,995.7 2059.0,995.6 2060.5,995.5 2062.0,995.4 2063.5,995.4 2065.0,995.3 2066.5,995.2 2068.0,995.1 2069.5,995.0 2071.0,994.9 2072.5,994.8 2074.0,994.7 2075.5,994.5 2077.0,994.4 2078.5,994.3 2080.0,994.2 2081.5,994.1 2083.0,994.0 2084.5,993.9 2086.0,993.8 2087.5,993.7 2089.0,993.5 2090.5,993.4 2092.0,993.3 2093.5,993.2 2095.0,993.0 2096.5,992.9 2098.0,992.8 2099.5,992.7 2101.0,992.5 2102.5,992.4 2104.0,992.3 2105.5,992.1 2107.0,992.0 2108.5,991.8 2110.0,991.7 2111.5,991.5 2113.0,991.4 2114.5,991.2 2116.0,991.1 2117.5,990.9 2119.0,990.8 2120.5,990.6 2122.0,990.5 2123.5,990.3 2125.0,990.1 2126.5,990.0 2128.0,989.8 2129.5,989.6 2131.0,989.5 2132.5,989.3 2134.0,989.1 2135.5,988.9 2137.0,988.7 2138.5,988.6 2140.0,988.4 2141.5,988.2 2143.0,988.0 2144.5,987.8 2146.0,987.6 2147.5,987.4 2149.0,987.2 2150.5,987.0 2152.0,986.8 2153.5,986.6 2155.0,986.3 2156.5,986.1 2158.0,985.9 2159.5,985.7 2161.0,985.5 2162.5,985.2 2164.0,985.0 2165.5,984.8 2167.0,984.5 2168.5,984.3 2170.0,984.0 2171.5,983.8 2173.0,983.6 2174.5,983.3 2176.0,983.0 2177.5,982.8 2179.0,982.5 2180.5,982.3 2182.0,982.0 2183.5,981.7 2185.0,981.4 2186.5,981.2 2188.0,980.9 2189.5,980.6 2191.0,980.3 2192.5,980.0 2194.0,979.7 2195.5,979.4 2197.0,979.1 2198.5,978.8 2200.0,978.5 2201.5,978.2 2203.0,977.9 2204.5,977.6 2206.0,977.3 2207.5,976.9 2209.0,976.6 2210.5,976.3 2212.0,976.0 2213.5,975.6 2215.0,975.3 2216.5,975.0 2218.0,974.6 2219.5,974.3 2221.0,973.9 2222.5,973.6 2224.0,973.2 2225.5,972.9 2227.0,972.5 2228.5,972.1 2230.0,971.8 2231.5,971.4 2233.0,971.0 2234.5,970.7 2236.0,970.3 2237.5,969.9 2239.0,969.5 2240.5,969.2 2242.0,968.8 2243.5,968.4 2245.0,968.0 2246.5,967.6 2248.0,967.2 2249.5,966.8 2251.0,966.4 2252.5,966.0 2254.0,965.6 2255.5,965.2 2257.0,964.8 2258.5,964.4 2260.0,964.0 2261.5,963.6 2263.0,963.2 2264.5,962.7 2266.0,962.3 2267.5,961.9 2269.0,961.5 2270.5,961.1 2272.0,960.6 2273.5,960.2 2275.0,959.8 2276.5,959.4 2278.0,958.9 2279.5,958.5 2281.0,958.1 2282.5,957.6 2284.0,957.2 2285.5,956.8 2287.0,956.3 2288.5,955.9 2290.0,955.4 2291.5,955.0 2293.0,954.5 2294.5,954.1 2296.0,953.6 2297.5,953.2 2299.0,952.7 2300.5,952.3 2302.0,951.8 2303.5,951.4 2305.0,950.9 2306.5,950.5 2308.0,950.0 2309.5,949.6 2311.0,949.1 2312.5,948.6 2314.0,948.2 2315.5,947.7 2317.0,947.3 2318.5,946.8 2320.0,946.3 2321.5,945.9 2323.0,945.4 2324.5,944.9 2326.0,944.5 2327.5,944.0 2329.0,943.5 2330.5,943.1 2332.0,942.6 2333.5,942.1 2335.0,941.7 2336.5,941.2 2338.0,940.7 2339.5,940.3 2341.0,939.8 2342.5,939.3 2344.0,938.8 2345.5,938.4 2347.0,937.9 2348.5,937.4 2350.0,937.0 2351.5,936.5 2353.0,936.0 2354.5,935.5 2356.0,935.1 2357.5,934.6 2359.0,934.1 2360.5,933.7 2362.0,933.2 2363.5,932.7 2365.0,932.2 2366.5,931.8 2368.0,931.3 2369.5,930.8 2371.0,930.4 2372.5,929.9 2374.0,929.4 2375.5,928.9 2377.0,928.5 2378.5,928.0 2380.0,927.5 2381.5,927.1 2383.0,926.6 2384.5,926.1 2386.0,925.7 2387.5,925.2 2389.0,924.7 2390.5,924.3 2392.0,923.8 2393.5,923.4 2395.0,922.9 2396.5,922.4 2398.0,922.0 2399.5,921.5 2401.0,921.0 2402.5,920.6 2404.0,920.1 2405.5,919.7 2407.0,919.2 2408.5,918.8 2410.0,918.3 2411.5,917.9 2413.0,917.4 2414.5,916.9 2416.0,916.5 2417.5,916.0 2419.0,915.6 2420.5,915.1 2422.0,914.7 2423.5,914.2 2425.0,913.8 2426.5,913.3 2428.0,912.9 2429.5,912.5 2431.0,912.0 2432.5,911.6 2434.0,911.1 2435.5,910.7 2437.0,910.2 2438.5,909.8 2440.0,909.4 2441.5,908.9 2443.0,908.5 2444.5,908.0 2446.0,907.6 2447.5,907.2 2449.0,906.7 2450.5,906.3 2452.0,905.9 2453.5,905.4 2455.0,905.0 2456.5,904.6 2458.0,904.1 2459.5,903.7 2461.0,903.3 2462.5,902.8 2464.0,902.4 2465.5,902.0 2467.0,901.6 2468.5,901.1 2470.0,900.7 2471.5,900.3 2473.0,899.9 2474.5,899.5 2476.0,899.0 2477.5,898.6 2479.0,898.2 2480.5,897.8 2482.0,897.4 2483.5,897.0 2485.0,896.5 2486.5,896.1 2488.0,895.7 2489.5,895.3 2491.0,894.9 2492.5,894.5 2494.0,894.1 2495.5,893.7 2497.0,893.3 2498.5,892.9 2500.0,892.5 2501.5,892.0 2503.0,891.6 2504.5,891.2 2506.0,890.8 2507.5,890.4 2509.0,890.0 2510.5,889.6 2512.0,889.3 2513.5,888.9 2515.0,888.5 2516.5,888.1 2518.0,887.7 2519.5,887.3 2521.0,886.9 2522.5,886.5 2524.0,886.1 2525.5,885.7 2527.0,885.3 2528.5,885.0 2530.0,884.6 2531.5,884.2 2533.0,883.8 2534.5,883.4 2536.0,883.1 2537.5,882.7 2539.0,882.3 2540.5,881.9 2542.0,881.5 2543.5,881.2 2545.0,880.8 2546.5,880.4 2548.0,880.1 2549.5,879.7 2551.0,879.3 2552.5,879.0 2554.0,878.6 2555.5,878.2 2557.0,877.9 2558.5,877.5 2560.0,877.1 2561.5,876.8 2563.0,876.4 2564.5,876.1 2566.0,875.7 2567.5,875.4 2569.0,875.0 2570.5,874.6 2572.0,874.3 2573.5,873.9 2575.0,873.6 2576.5,873.3 2578.0,872.9 2579.5,872.6 2581.0,872.2 2582.5,871.9 2584.0,871.5 2585.5,871.2 2587.0,870.9 2588.5,870.5 2590.0,870.2 2591.5,869.8 2593.0,869.5 2594.5,869.2 2596.0,868.8 2597.5,868.5 2599.0,868.2 2600.5,867.8 2602.0,867.5 2603.5,867.1 2605.0,866.7 2606.5,866.4 2608.0,866.0 2609.5,865.6 2611.0,865.2 2612.5,864.8 2614.0,864.4 2615.5,863.9 2617.0,863.5 2618.5,863.0 2620.0,862.6 2621.5,862.1 2623.0,861.6 2624.5,861.0 2626.0,860.5 2627.5,859.9 2629.0,859.3 2630.5,858.7 2632.0,858.1 2633.5,857.4 2635.0,856.8 2636.5,856.0 2638.0,855.3 2639.5,854.6 2641.0,853.8 2642.5,853.0 2644.0,852.1 2645.5,851.2 2647.0,850.3 2648.5,849.4 2650.0,848.4 2651.5,847.4 2653.0,846.4 2654.5,845.3 2656.0,844.2 2657.5,843.1 2659.0,841.9 2660.5,840.7 2662.0,839.4 2663.5,838.1 2665.0,836.7 2666.5,835.4 2668.0,833.9 2669.5,832.4 2671.0,830.9 2672.5,829.4 2674.0,827.7 2675.5,826.1 2677.0,824.4 2678.5,822.6 2680.0,820.8 2681.5,818.9 2683.0,817.0 2684.5,815.0 2686.0,812.8 2687.5,810.5 2689.0,808.0 2690.5,805.2 2692.0,802.2 2693.5,799.0 2695.0,795.6 2696.5,792.1 2698.0,788.6 2699.5,785.1 2701.0,781.7 2702.5,778.4 2704.0,775.3 2705.5,772.3 2707.0,769.3 2708.5,766.3 2710.0,763.3 2711.5,760.2 2713.0,757.0 2714.5,753.7 2716.0,750.2 2717.5,746.7 2719.0,743.2 2720.5,739.8 2722.0,736.5 2723.5,733.3 2725.0,730.3 2726.5,727.7 2728.0,725.3 2729.5,723.3 2731.0,721.8 2732.5,720.7 2734.0,720.1 2735.5,720.2 2737.0,720.8 2738.5,722.1 2740.0,723.8 2741.5,726.0 2743.0,728.6 2744.5,731.7 2746.0,735.0 2747.5,738.7 2749.0,742.6 2750.5,746.7 2752.0,751.0 2753.5,755.4 2755.0,759.9 2756.5,764.4 2758.0,768.9 2759.5,773.4 2761.0,777.7 2762.5,781.7 2764.0,785.2 2765.5,788.1 2767.0,790.1 2768.5,791.3 2770.0,791.7 2771.5,791.4 2773.0,790.6 2774.5,789.5 2776.0,788.0 2777.5,786.4 2779.0,784.8 2780.5,783.1 2782.0,781.5 2783.5,779.9 2785.0,778.3 2786.5,776.6 2788.0,775.0 2789.5,773.4 2791.0,771.7 2792.5,770.0 2794.0,768.4 2795.5,766.7 2797.0,765.0 2798.5,763.3 2800.0,761.5 2801.5,759.8 2803.0,758.0 2804.5,756.2 2806.0,754.4 2807.5,752.5 2809.0,750.6 2810.5,748.7 2812.0,746.8 2813.5,744.8 2815.0,742.8 2816.5,740.8 2818.0,738.7 2819.5,736.6 2821.0,734.4 2822.5,732.2 2824.0,730.0 2825.5,727.7 2827.0,725.4 2828.5,723.0 2830.0,720.6 2831.5,718.1 2833.0,715.5 2834.5,713.0 2836.0,710.3 2837.5,707.6 2839.0,704.9 2840.5,702.1 2842.0,699.2 2843.5,696.2 2845.0,693.2 2846.5,690.2 2848.0,687.0 2849.5,683.9 2851.0,680.6 2852.5,677.3 2854.0,674.0 2855.5,670.6 2857.0,667.1 2858.5,663.6 2860.0,660.1 2861.5,656.5 2863.0,652.9 2864.5,649.3 2866.0,645.6 2867.5,641.9 2869.0,638.1 2870.5,634.3 2872.0,630.5 2873.5,626.7 2875.0,622.9 2876.5,619.0 2878.0,615.1 2879.5,611.2 2881.0,607.3 2882.5,603.4 2884.0,599.5 2885.5,595.5 2887.0,591.6 2888.5,587.7 2890.0,583.7 2891.5,579.8 2893.0,575.8 2894.5,571.9 2896.0,568.0 2897.5,564.1 2899.0,560.2 2900.5,556.3 2902.0,552.4 2903.5,548.6 2905.0,544.7 2906.5,540.8 2908.0,536.9 2909.5,533.1 2911.0,529.2 2912.5,525.2 2914.0,521.3 2915.5,517.4 2917.0,513.4 2918.5,509.4 2920.0,505.4 2921.5,501.3 2923.0,497.3 2924.5,493.1 2926.0,489.0 2927.5,484.8 2929.0,480.5 2930.5,476.2 2932.0,471.8 2933.5,467.4 2935.0,463.0 2936.5,458.4 2938.0,453.8 2939.5,449.2 2941.0,444.5 2942.5,439.7 2944.0,434.8 2945.5,429.8 2947.0,424.8 2948.5,419.6 2950.0,414.2 2951.5,408.3 2953.0,401.8 2954.5,394.6 2956.0,386.5 2957.5,377.3" fill="none" stroke="#c0202f" stroke-width="6.2" stroke-linecap="round" stroke-linejoin="round"/>
<rect x="1844" y="127.3" width="1115" height="884.7" fill="none" stroke="#111111" stroke-width="6"/>
<rect x="2749.3" y="488.5" width="6.4" height="30" fill="#3d6ec4"/>
<polygon points="2741.8,516.5 2764.5,516.5 2752.5,563.5" fill="#3d6ec4"/>
<rect x="2747.2" y="846" width="7.4" height="32" fill="#c0202f"/>
<polygon points="2739.2,850.3 2763,850.3 2751,803.4" fill="#c0202f"/>
</svg>
</body></html>
